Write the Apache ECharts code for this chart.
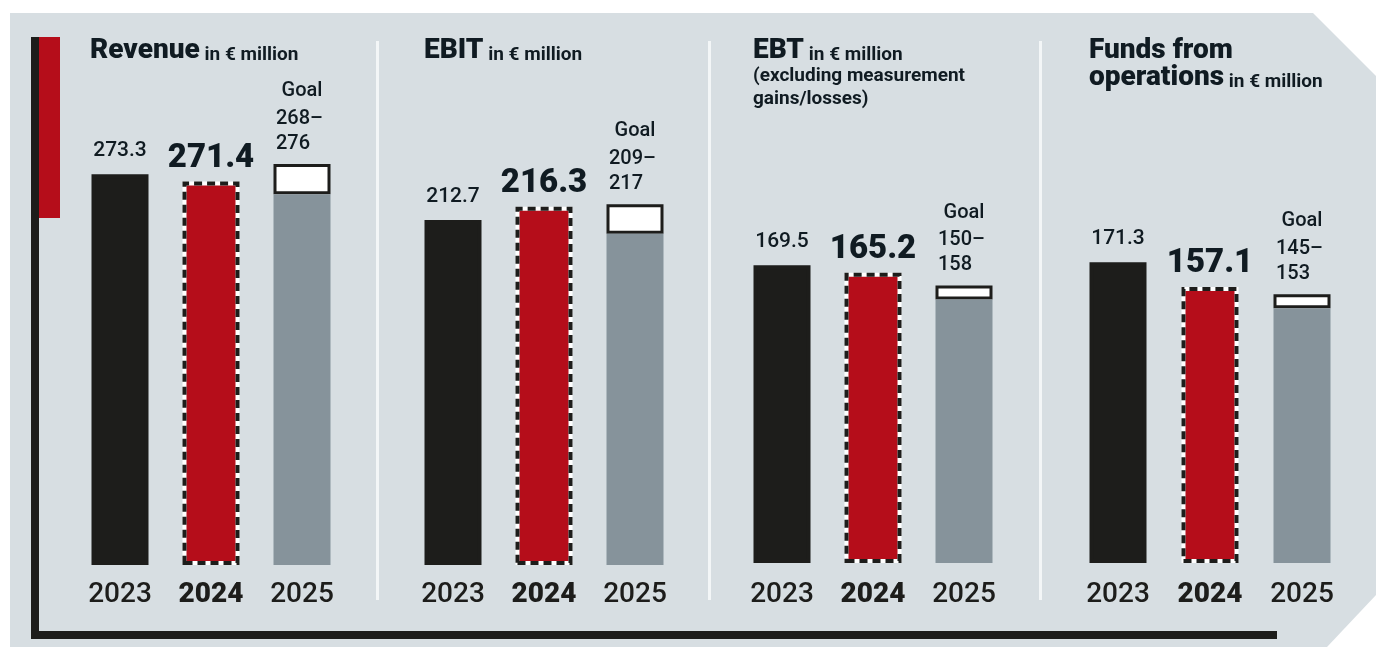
<!DOCTYPE html>
<html>
<head>
<meta charset="utf-8">
<title>Key figures</title>
<script src="https://cdn.jsdelivr.net/npm/echarts@6/dist/echarts.min.js"></script>
<style>
  html, body { margin: 0; padding: 0; background: #ffffff; }
  #chart { width: 1376px; height: 647px; }
</style>
</head>
<body>
<div id="chart"></div>
<script>
// Years shown under every panel
const years = ['2023', '2024', '2025'];

// Actual values (2023, 2024) in € million
const revenue = [273.3, 271.4];
const ebit = [212.7, 216.3];
const ebt = [169.5, 165.2];
const ffo = [171.3, 157.1];

// 2025 goal ranges [low, high] in € million
const revenueGoal = [268, 276];
const ebitGoal = [209, 217];
const ebtGoal = [150, 158];
const ffoGoal = [145, 153];

// Panel headings
const headMain = ['Revenue', 'EBIT', 'EBT', 'Funds from\noperations'];
const headSub = ['in € million', 'in € million', 'in € million', 'in € million'];
const ebtNote = ['(excluding measurement', 'gains/losses)'];

const BLACK = '#1d1d1b';
const RED = '#b50d1a';
const GREY = '#86939b';
const INK = '#101b22';
const BG = '#d7dee2';
const FONT = 'Roboto, "Noto Sans", sans-serif';

const panels = [
  { actual: revenue, goal: revenueGoal, left: 74.5, width: 273, range: [170.2, 303.6] },
  { actual: ebit, goal: ebitGoal, left: 407.5, width: 273, range: [119.3, 256.3] },
  { actual: ebt, goal: ebtGoal, left: 736.5, width: 273, range: [0, 286.4] },
  { actual: ffo, goal: ffoGoal, left: 1072, width: 276, range: [0, 286.4] }
];

const GRID_TOP = 60;
const GRID_BOTTOM = 84;

const grids = [], xAxes = [], yAxes = [], series = [];

panels.forEach((p, i) => {
  grids.push({ left: p.left, width: p.width, top: GRID_TOP, bottom: GRID_BOTTOM, outerBoundsMode: 'none' });
  xAxes.push({
    type: 'category', gridIndex: i, data: years,
    axisLine: { show: false }, axisTick: { show: false }, splitLine: { show: false },
    axisLabel: {
      margin: 18,
      formatter: v => (v === '2024' ? '{b|' + v + '}' : '{n|' + v + '}'),
      rich: {
        n: { fontFamily: FONT, fontSize: 28, fontWeight: 500, color: BLACK, lineHeight: 28 },
        b: { fontFamily: FONT, fontSize: 28, fontWeight: 900, color: BLACK, lineHeight: 28 }
      }
    }
  });
  yAxes.push({ type: 'value', gridIndex: i, min: p.range[0], max: p.range[1], show: false, splitLine: { show: false } });

  // 2023 and 2024 actuals
  series.push({
    type: 'bar', xAxisIndex: i, yAxisIndex: i, barWidth: 57, barGap: '-100%', z: 2,
    data: [
      {
        value: p.actual[0],
        itemStyle: { color: BLACK, borderColor: BLACK, borderWidth: 4 },
        label: {
          show: true, position: 'top', distance: 13,
          formatter: p.actual[0].toFixed(1),
          fontFamily: FONT, fontSize: 21, fontWeight: 500, color: INK, lineHeight: 21
        }
      },
      {
        value: p.actual[1],
        itemStyle: { color: RED, borderColor: '#ffffff', borderWidth: 4 },
        label: {
          show: true, position: 'top', distance: 6,
          formatter: p.actual[1].toFixed(1),
          fontFamily: FONT, fontSize: 33, fontWeight: 900, color: INK, lineHeight: 34
        }
      },
      '-'
    ]
  });

  // dashed frame around the 2024 bar
  series.push({
    type: 'bar', xAxisIndex: i, yAxisIndex: i, barWidth: 57, barGap: '-100%', z: 3, silent: true,
    itemStyle: { color: 'rgba(0,0,0,0)', borderColor: BLACK, borderWidth: 4, borderType: [8, 5] },
    data: ['-', p.actual[1], '-']
  });

  // 2025 goal: grey up to the lower bound, white box up to the upper bound
  series.push({
    type: 'bar', xAxisIndex: i, yAxisIndex: i, barWidth: 57, barGap: '-100%', stack: 'goal' + i, z: 4,
    itemStyle: { color: GREY, borderColor: GREY, borderWidth: 4 },
    data: ['-', '-', p.goal[0]]
  });
  series.push({
    type: 'bar', xAxisIndex: i, yAxisIndex: i, barWidth: 57, barGap: '-100%', stack: 'goal' + i, z: 2,
    itemStyle: { color: '#ffffff', borderColor: BLACK, borderWidth: 3 },
    label: {
      show: true, position: 'top', distance: 8, width: 52,
      formatter: () => '{g|Goal}\n{r|' + p.goal[0] + '–}\n{r|' + p.goal[1] + '}',
      rich: {
        g: { fontFamily: FONT, fontSize: 20, fontWeight: 500, color: INK, lineHeight: 30, align: 'center' },
        r: { fontFamily: FONT, fontSize: 20, fontWeight: 500, color: INK, lineHeight: 25, align: 'left' }
      }
    },
    data: ['-', '-', +(p.goal[1] - p.goal[0]).toFixed(1)]
  });
});

// Panel headings
const headX = [90, 424, 753, 1089];
const headings = headMain.map((m, i) => {
  let text;
  if (i === 3) {
    const parts = m.split('\n');
    text = '{h|' + parts[0] + '}\n{h|' + parts[1] + '}{s| ' + headSub[i] + '}';
  } else if (i === 2) {
    text = '{h|' + m + '}{s| ' + headSub[i] + '}\n{t|' + ebtNote[0] + '}\n{t|' + ebtNote[1] + '}';
  } else {
    text = '{h|' + m + '}{s| ' + headSub[i] + '}';
  }
  return {
    type: 'text', left: headX[i], top: 37, z: 10, silent: true,
    style: {
      text: text,
      rich: {
        h: { fontFamily: FONT, fontSize: 28, fontWeight: 900, fill: INK, lineHeight: 24, verticalAlign: 'bottom' },
        s: { fontFamily: FONT, fontSize: 19, fontWeight: 700, fill: INK, lineHeight: 27, verticalAlign: 'bottom' },
        t: { fontFamily: FONT, fontSize: 19, fontWeight: 700, fill: INK, lineHeight: 23 }
      }
    }
  };
});

const chart = echarts.init(document.getElementById('chart'), null, { renderer: 'canvas' });
chart.setOption({
  animation: false,
  backgroundColor: '#ffffff',
  grid: grids,
  xAxis: xAxes,
  yAxis: yAxes,
  series: series,
  graphic: {
    elements: [
      {
        type: 'polygon', z: -10, silent: true,
        shape: { points: [[10, 13], [1313, 13], [1376, 76], [1376, 595], [1327, 647], [10, 647]] },
        style: { fill: BG }
      },
      { type: 'rect', z: -9, silent: true, shape: { x: 376, y: 41, width: 3, height: 559 }, style: { fill: '#f3f6f7' } },
      { type: 'rect', z: -9, silent: true, shape: { x: 708, y: 41, width: 3, height: 559 }, style: { fill: '#f3f6f7' } },
      { type: 'rect', z: -9, silent: true, shape: { x: 1039, y: 41, width: 3, height: 559 }, style: { fill: '#f3f6f7' } },
      { type: 'rect', z: -8, silent: true, shape: { x: 31, y: 37, width: 8, height: 602 }, style: { fill: BLACK } },
      { type: 'rect', z: -8, silent: true, shape: { x: 31, y: 631, width: 1246, height: 8 }, style: { fill: BLACK } },
      { type: 'rect', z: -8, silent: true, shape: { x: 39, y: 37, width: 21, height: 181 }, style: { fill: RED } }
    ].concat(headings)
  }
});
</script>
</body>
</html>
